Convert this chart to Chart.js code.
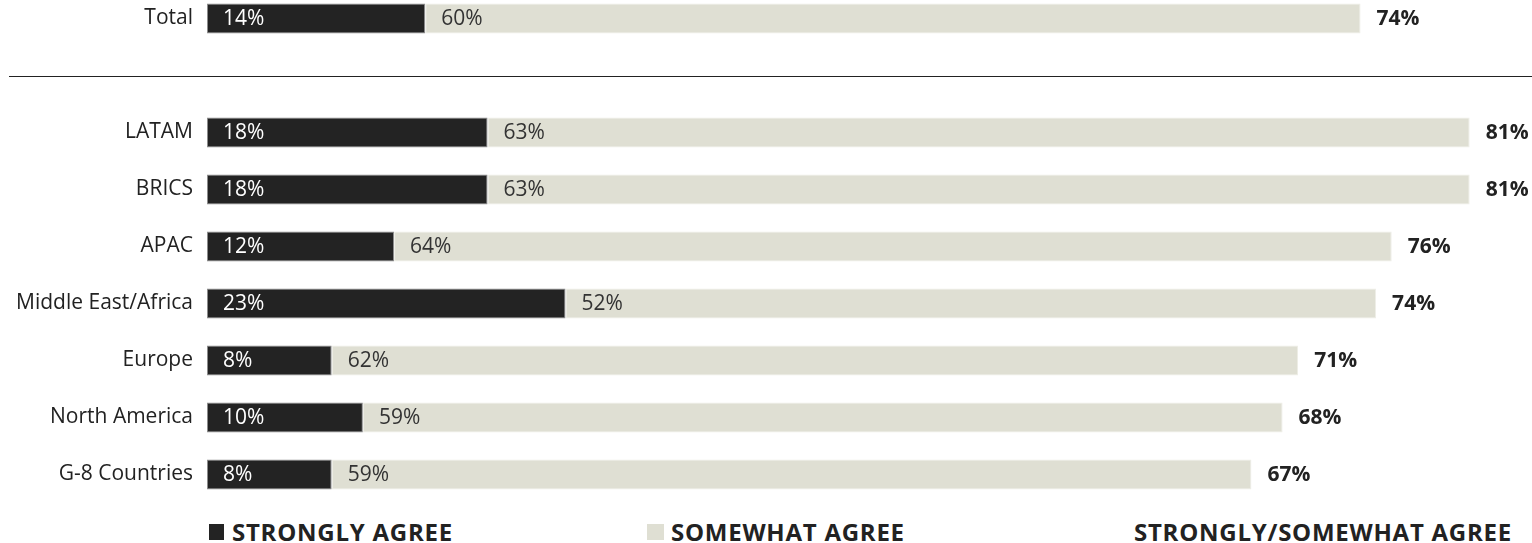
<!DOCTYPE html>
<html>
<head>
<meta charset="utf-8">
<script src="https://cdn.jsdelivr.net/npm/chart.js@4.4.1/dist/chart.umd.min.js"></script>
<style>
  html, body { margin: 0; padding: 0; background: #fff; }
  body { width: 1532px; height: 543px; position: relative; overflow: hidden; font-family: "Open Sans", sans-serif; color: #222; }
  .box { position: absolute; }
  .sep { position: absolute; left: 9px; right: 0; top: 76px; height: 1px; background: #222; }
  .leg-sq { position: absolute; height: 16px; top: 524px; }
  .leg-txt { position: absolute; top: 520px; font-weight: bold; font-size: 24px; line-height: 24px; letter-spacing: 0.75px; color: #222; white-space: nowrap; }
</style>
</head>
<body>
<div class="box" style="left:0; top:-10px; width:1532px; height:57px;"><canvas id="chart-total"></canvas></div>
<div class="sep"></div>
<div class="box" style="left:0; top:104px; width:1532px; height:399px;"><canvas id="chart-regions"></canvas></div>

<div class="leg-sq" style="left:209px; width:15px; background:#232323;"></div>
<div class="leg-txt" style="left:232px;">STRONGLY AGREE</div>
<div class="leg-sq" style="left:647px; width:17px; background:#dfdfd3;"></div>
<div class="leg-txt" style="left:671px;">SOMEWHAT AGREE</div>
<div class="leg-txt" style="left:1134px;">STRONGLY/SOMEWHAT AGREE</div>

<script>
const totalLabels = ['Total'];
const totalStrongly = [14];
const totalSomewhat = [60];
const totalCombined = [74];

const regions = ['LATAM', 'BRICS', 'APAC', 'Middle East/Africa', 'Europe', 'North America', 'G-8 Countries'];
const stronglyAgree = [18, 18, 12, 23, 8, 10, 8];
const somewhatAgree = [63, 63, 64, 52, 62, 59, 59];
const combinedAgree = [81, 81, 76, 74, 71, 68, 67];

const darkColor = '#232323';
const lightColor = '#dfdfd3';
const fontFamily = '"Open Sans", sans-serif';

Chart.defaults.font.family = fontFamily;
Chart.defaults.color = '#222';

// draws the % inside each segment and the combined total after the bar
const barLabels = {
    id: 'barLabels',
    afterDatasetsDraw(chart, args, opts) {
        const ctx = chart.ctx;
        ctx.save();
        ctx.textBaseline = 'middle';
        ctx.textAlign = 'left';
        chart.data.datasets.forEach((ds, i) => {
            const meta = chart.getDatasetMeta(i);
            ctx.font = '21px ' + fontFamily;
            ctx.fillStyle = i === 0 ? '#ffffff' : '#333333';
            meta.data.forEach((bar, j) => {
                ctx.fillText(ds.data[j] + '%', Math.min(bar.base, bar.x) + 16, bar.y + 1);
            });
        });
        const last = chart.getDatasetMeta(chart.data.datasets.length - 1);
        ctx.font = 'bold 21px ' + fontFamily;
        ctx.fillStyle = '#222222';
        last.data.forEach((bar, j) => {
            ctx.fillText(opts.totals[j] + '%', bar.x + 16, bar.y + 1);
        });
        ctx.restore();
    }
};

function makeConfig(labels, strong, somewhat, combined) {
    return {
        type: 'bar',
        plugins: [barLabels],
        data: {
            labels: labels,
            datasets: [
                {
                    label: 'Strongly agree',
                    data: strong,
                    backgroundColor: darkColor,
                    borderColor: '#8c8c8c',
                    borderWidth: 1,
                    borderSkipped: false
                },
                {
                    label: 'Somewhat agree',
                    data: somewhat,
                    backgroundColor: lightColor,
                    borderColor: '#edede6',
                    borderWidth: 1,
                    borderSkipped: false
                }
            ]
        },
        options: {
            indexAxis: 'y',
            responsive: true,
            maintainAspectRatio: false,
            animation: false,
            layout: { padding: 0 },
            datasets: {
                bar: { categoryPercentage: 1, barPercentage: 30 / 57 }
            },
            plugins: {
                legend: { display: false },
                tooltip: { enabled: false },
                barLabels: { totals: combined }
            },
            scales: {
                x: { stacked: true, min: 0, max: 85, display: false },
                y: {
                    stacked: true,
                    grid: { display: false, drawTicks: false },
                    border: { display: false },
                    ticks: { padding: 14, color: '#222', font: { size: 21 } },
                    afterFit: (scale) => {
                        scale.width = 207;
                        scale.paddingTop = 0;
                        scale.paddingBottom = 0;
                    }
                }
            }
        }
    };
}

var context_chart_total = document.getElementById('chart-total');
var chart_total = new Chart(context_chart_total, makeConfig(totalLabels, totalStrongly, totalSomewhat, totalCombined));

var context_chart_regions = document.getElementById('chart-regions');
var chart_regions = new Chart(context_chart_regions, makeConfig(regions, stronglyAgree, somewhatAgree, combinedAgree));
</script>
</body>
</html>
